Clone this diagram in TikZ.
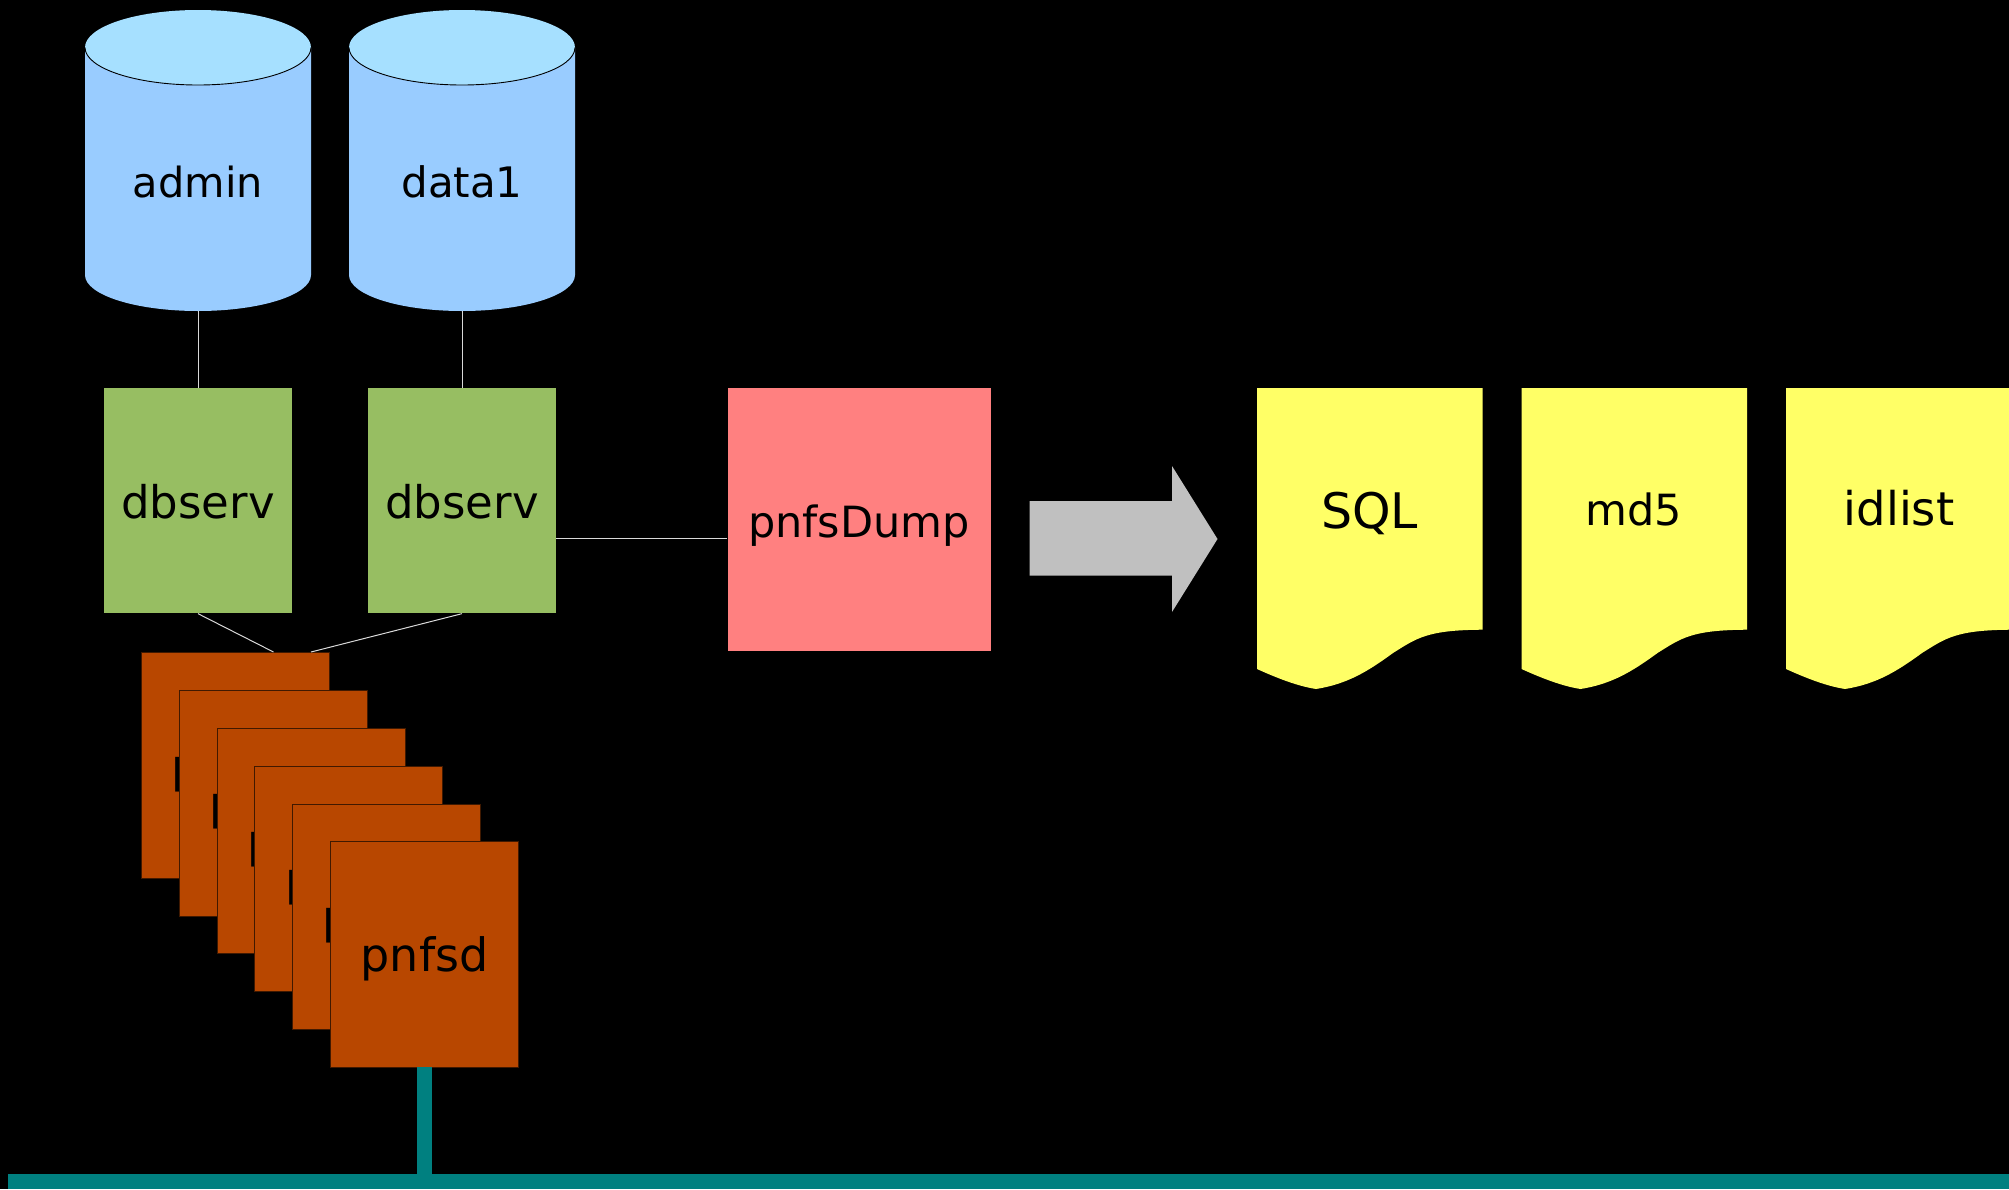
\documentclass[tikz,border=0pt]{standalone}
\usepackage{fontspec}
\setmainfont{DejaVu Sans}
\definecolor{cylside}{HTML}{99CCFF}
\definecolor{cyltop}{HTML}{A6E0FF}
\definecolor{dbgreen}{HTML}{97BE62}
\definecolor{dumpred}{HTML}{FF8080}
\definecolor{pnfsorange}{HTML}{B84700}
\definecolor{docyellow}{HTML}{FFFF66}
\definecolor{arrowgrey}{HTML}{C0C0C0}
\definecolor{busteal}{HTML}{008080}
\tikzset{
  x=1pt,y=-1pt,
  textsize/.style={font=\fontsize{#1}{50}\selectfont},
  labeltext/.style={textsize=43,text=black,inner sep=0pt,text depth=5pt},
  cyllabel/.style={labeltext,minimum width=226pt,minimum height=301pt,text height=79pt},
  dbbox/.style={labeltext,textsize=45,fill=dbgreen,minimum width=187.7pt,minimum height=225.5pt,text height=40pt},
  pnfsbox/.style={labeltext,textsize=46,fill=pnfsorange,draw=black!65!pnfsorange,line width=0.9pt,minimum width=188pt,minimum height=225.5pt,text height=38pt},
  dumpbox/.style={labeltext,fill=dumpred,minimum width=263pt,minimum height=263pt,text height=40pt},
  doclabel/.style={labeltext,anchor=base,text depth=0pt},
  link/.style={draw=white!85!black,line width=1pt},
  bus/.style={fill=busteal},
}
\newcommand{\cylshape}[1]{%
  \fill[cylside] (#1,47.5) -- (#1,275) arc[start angle=180,end angle=0,x radius=113,y radius=36] -- (#1+226,47.5) -- cycle;
  \fill[cyltop] (#1+113,47.5) ellipse[x radius=113,y radius=37.5];
  \draw[black,line width=0.9pt] (#1,47.5) arc[start angle=180,end angle=0,x radius=113,y radius=37.5];
}
\newcommand{\docshape}[1]{%
  \fill[docyellow] (#1,388) -- (#1+225.5,388) -- (#1+225.5,629.7)
    .. controls (#1+170,630) and (#1+160,638) .. (#1+136,653)
    .. controls (#1+110,672) and (#1+90,684) .. (#1+59,689)
    .. controls (#1+40,686) and (#1+20,678) .. (#1,669) -- cycle;
}
\begin{document}
\begin{tikzpicture}
\useasboundingbox (0,0) rectangle (2009,1189);
\fill[black] (0,0) rectangle (2009,1189);
\clip (0,0) rectangle (2009,1189);

% cylinders
\cylshape{85}
\cylshape{349}
\node[cyllabel,textsize=41.5] (admin) at (198,160.5) {admin};
\node[cyllabel,textsize=42] (data) at (462,160.5) {data1};

% dbserv
\node[dbbox] (db1) at (198,500.7) {dbserv};
\node[dbbox] (db2) at (462,500.7) {dbserv};

% stack of pnfsd
\node[pnfsbox] (p1) at (235.5,765.5) {pnfsd};
\node[pnfsbox] (p2) at (273.3,803.3) {pnfsd};
\node[pnfsbox] (p3) at (311.1,841.1) {pnfsd};
\node[pnfsbox] (p4) at (348.9,878.9) {pnfsd};
\node[pnfsbox] (p5) at (386.7,916.7) {pnfsd};
\node[pnfsbox] (p6) at (424.5,954.5) {pnfsd};

% pnfsDump
\node[dumpbox] (dump) at (859,519.5) {pnfsDump};

% connectors
\coordinate (pa) at (273.5,652);
\coordinate (pb) at (311,652);
\coordinate (jy) at (0,538.5);
\draw[link] (admin.south) -- (db1.north);
\draw[link] (data.south) -- (db2.north);
\draw[link] (db1.south) -- (pa);
\draw[link] (db2.south) -- (pb);
\draw[link] (db2.east |- jy) -- (dump.west |- jy);

% big arrow
\fill[arrowgrey] (1029.5,501) -- (1172,501) -- (1172,466) -- (1217.5,539) -- (1172,612) -- (1172,575.7) -- (1029.5,575.7) -- cycle;

% documents
\docshape{1257}
\docshape{1521.5}
\docshape{1786}
\node[doclabel,textsize=49] (sql) at (1369.5,528) {SQL};
\node[doclabel] (md) at (1634,525.5) {md5};
\node[doclabel,textsize=46.5] (idl) at (1899,525.5) {idlist};

% bus
\fill[bus] (417,1067) rectangle (432,1174);
\fill[bus] (8,1174) rectangle (2009,1189);
\end{tikzpicture}
\end{document}
